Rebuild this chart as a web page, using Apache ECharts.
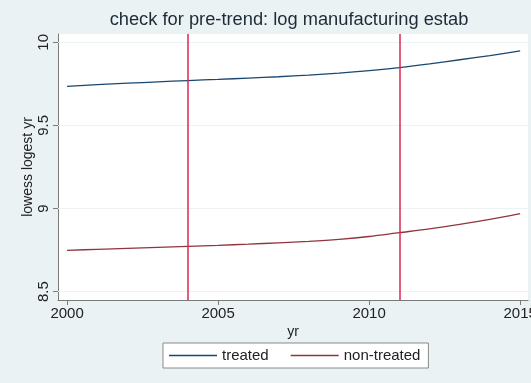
<!DOCTYPE html>
<html>
<head>
<meta charset="utf-8">
<script src="https://cdn.jsdelivr.net/npm/echarts@6/dist/echarts.min.js"></script>
<style>
html,body{margin:0;padding:0;background:#eaf2f3;}
#c{width:531px;height:383px;}
</style>
</head>
<body>
<div id="c"></div>
<script>
var years = [2000,2001,2002,2003,2004,2005,2006,2007,2008,2009,2010,2011,2012,2013,2014,2015];
var treated = [9.735,9.745,9.754,9.762,9.770,9.777,9.785,9.793,9.803,9.815,9.830,9.848,9.870,9.895,9.920,9.948];
var nonTreated = [8.749,8.755,8.761,8.767,8.773,8.779,8.786,8.794,8.803,8.815,8.832,8.855,8.878,8.905,8.935,8.970];
var xTicks = [2000,2005,2010,2015];
var yTicks = [8.5,9,9.5,10];
var eventYears = [2004,2011];
var seriesNames = ['treated','non-treated'];

var FONT = '"Liberation Sans", Arial, sans-serif';
var chart = echarts.init(document.getElementById('c'));

function pairs(ys){ return years.map(function(y,i){ return [y, ys[i]]; }); }

chart.setOption({
  backgroundColor: '#eaf2f3',
  animation: false,
  textStyle: {fontFamily: FONT},
  title: {
    text: 'check for pre-trend: log manufacturing estab',
    left: 284, top: 6, textAlign: 'center',
    textStyle: {fontFamily: FONT, fontSize: 18.3, fontWeight: 'normal', color: '#1e2a36'}
  },
  legend: {
    left: 163, top: 343, width: 260, height: 26,
    padding: [5, 8, 5, 6],
    backgroundColor: '#ffffff',
    borderColor: '#8a8a8a', borderWidth: 1, borderRadius: 0,
    icon: 'rect', itemWidth: 48, itemHeight: 1.5, itemGap: 22,
    textStyle: {fontFamily: FONT, fontSize: 15, color: '#222'},
    data: seriesNames
  },
  grid: {left: 58, right: 3, top: 34, bottom: 83, show: true, backgroundColor: '#ffffff', borderWidth: 0,
    outerBoundsMode: 'none', containLabel: false},
  xAxis: {
    type: 'value', min: 1999.7, max: 2015.26,
    name: 'yr', nameLocation: 'middle', nameGap: 25, nameMoveOverlap: false,
    nameTextStyle: {fontFamily: FONT, fontSize: 14, color: '#222'},
    axisLine: {show: true, onZero: false, lineStyle: {color: '#7a7a7a', width: 1}},
    axisTick: {show: true, length: 5, customValues: xTicks, lineStyle: {color: '#7a7a7a'}},
    axisLabel: {customValues: xTicks, margin: 6, fontFamily: FONT, fontSize: 15, color: '#222',
      hideOverlap: false, formatter: function(v){ return String(v); }},
    splitLine: {show: false}
  },
  yAxis: {
    type: 'value', min: 8.45, max: 10.05,
    name: 'lowess logest yr', nameLocation: 'middle', nameGap: 23, nameRotate: 90, nameMoveOverlap: false,
    nameTextStyle: {fontFamily: FONT, fontSize: 14, color: '#222'},
    axisLine: {show: true, onZero: false, lineStyle: {color: '#7a7a7a', width: 1}},
    axisTick: {show: true, length: 5, customValues: yTicks, lineStyle: {color: '#7a7a7a'}},
    axisLabel: {customValues: yTicks, rotate: 90, margin: 7, fontFamily: FONT, fontSize: 15, color: '#222',
      formatter: function(v){ return String(v); }},
    splitLine: {show: false}
  },
  series: [
    {
      name: 'grid', type: 'line', data: [], silent: true,
      markLine: {
        silent: true, symbol: 'none', label: {show: false},
        lineStyle: {color: '#eef2f3', width: 1, type: 'solid'},
        data: yTicks.map(function(v){ return {yAxis: v}; })
      }
    },
    {
      name: seriesNames[0], type: 'line', data: pairs(treated),
      showSymbol: false, symbol: 'none', smooth: 0.3,
      lineStyle: {color: '#1a476f', width: 1.3}, itemStyle: {color: '#1a476f'}
    },
    {
      name: seriesNames[1], type: 'line', data: pairs(nonTreated),
      showSymbol: false, symbol: 'none', smooth: 0.3,
      lineStyle: {color: '#90353b', width: 1.3}, itemStyle: {color: '#90353b'},
      markLine: {
        silent: true, symbol: 'none', label: {show: false},
        lineStyle: {color: '#dc2655', width: 1.5, type: 'solid'},
        data: eventYears.map(function(v){ return {xAxis: v}; })
      }
    }
  ]
});
</script>
</body>
</html>
